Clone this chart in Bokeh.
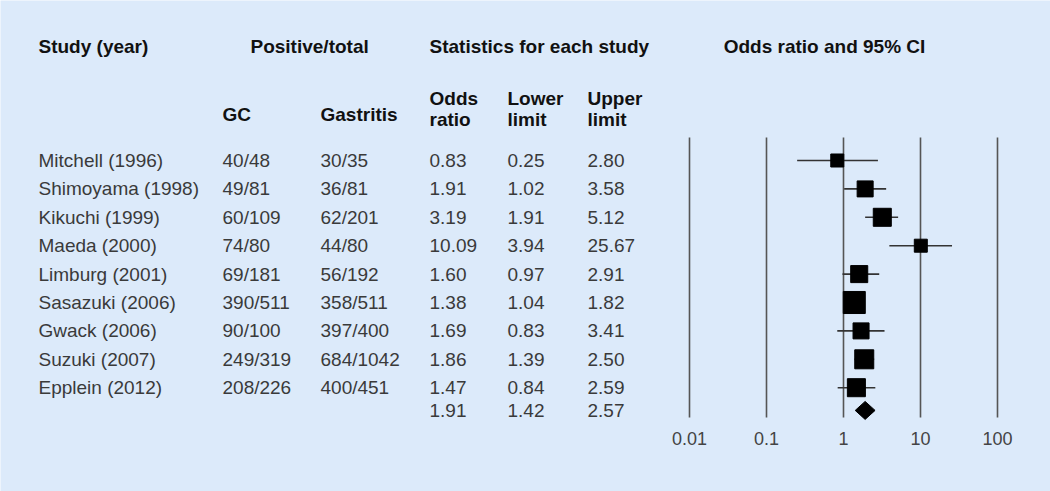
from bokeh.plotting import figure
from bokeh.models import ColumnDataSource, Range1d
from bokeh.core.properties import value
from bokeh.embed import file_html
from bokeh.resources import INLINE

# ---------------- data ----------------
studies = ["Mitchell (1996)", "Shimoyama (1998)", "Kikuchi (1999)", "Maeda (2000)",
           "Limburg (2001)", "Sasazuki (2006)", "Gwack (2006)", "Suzuki (2007)",
           "Epplein (2012)"]
gc_pos = ["40/48", "49/81", "60/109", "74/80", "69/181", "390/511", "90/100",
          "249/319", "208/226"]
gastritis_pos = ["30/35", "36/81", "62/201", "44/80", "56/192", "358/511", "397/400",
                 "684/1042", "400/451"]
odds = [0.83, 1.91, 3.19, 10.09, 1.60, 1.38, 1.69, 1.86, 1.47]
lower = [0.25, 1.02, 1.91, 3.94, 0.97, 1.04, 0.83, 1.39, 0.84]
upper = [2.80, 3.58, 5.12, 25.67, 2.91, 1.82, 3.41, 2.50, 2.59]
weights = [6.4, 9.7, 12.3, 6.4, 11.0, 18.4, 9.7, 13.7, 12.3]   # relative study weight (%)
summary_or, summary_lo, summary_hi = 1.91, 1.42, 2.57
ticks = [0.01, 0.1, 1, 10, 100]
tick_labels = ["0.01", "0.1", "1", "10", "100"]

# ---------------- layout constants ----------------
BG = "#dceafa"
FONT = value("Liberation Sans")
W, H = 1050, 491
ROW0, STEP = 160.0, 28.4          # page y of first row, px per row
PX_DECADE, PX_ONE = 77.0, 843.0   # forest scale: px per decade, page x of OR = 1


def py(page_y):
    return (page_y - ROW0) / STEP


def lx(page_x):
    # page x -> position on the log odds-ratio axis
    return 10 ** ((page_x - PX_ONE) / PX_DECADE)


rows = list(range(len(studies)))
summary_row = 8.8

src = ColumnDataSource(dict(
    y=rows, study=studies, gc=gc_pos, gas=gastritis_pos,
    ors=[f"{v:.2f}" for v in odds], lo=[f"{v:.2f}" for v in lower],
    hi=[f"{v:.2f}" for v in upper], odds=odds, lower=lower, upper=upper,
    size=[5.14 * w ** 0.5 for w in weights],
))

p = figure(width=W, height=H, output_backend="svg", toolbar_location=None,
           x_axis_type="log", x_range=Range1d(lx(0), lx(W)),
           y_range=Range1d(py(H), py(0)),
           x_axis_location=None, y_axis_location=None,
           min_border_left=0, min_border_right=0, min_border_top=0,
           min_border_bottom=0)
p.background_fill_color = BG
p.border_fill_color = BG
p.outline_line_color = None
p.xgrid.visible = False
p.ygrid.visible = False

body = dict(text_font=FONT, text_font_size="19px", text_color="#3a3a3a",
            text_baseline="middle", text_align="left")
head = dict(text_font=FONT, text_font_size="19px", text_color="#111111",
            text_font_style="bold", text_baseline="middle", text_align="left")

# ---------------- table ----------------
COL_STUDY, COL_GC, COL_GAS, COL_OR, COL_LO, COL_HI = (lx(38), lx(222), lx(320),
                                                      lx(429), lx(507), lx(587))
p.text(x=COL_STUDY, y="y", text="study", source=src, **body)
p.text(x=COL_GC, y="y", text="gc", source=src, **body)
p.text(x=COL_GAS, y="y", text="gas", source=src, **body)
p.text(x=COL_OR, y="y", text="ors", source=src, **body)
p.text(x=COL_LO, y="y", text="lo", source=src, **body)
p.text(x=COL_HI, y="y", text="hi", source=src, **body)
p.text(x=[COL_OR, COL_LO, COL_HI], y=[summary_row] * 3,
       text=[f"{summary_or:.2f}", f"{summary_lo:.2f}", f"{summary_hi:.2f}"], **body)

p.text(x=[COL_STUDY, lx(250), COL_OR], y=[py(46)] * 3,
       text=["Study (year)", "Positive/total", "Statistics for each study"], **head)
p.text(x=[COL_GC, COL_GAS], y=[py(114)] * 2, text=["GC", "Gastritis"], **head)
p.text(x=[COL_OR, COL_LO, COL_HI], y=[py(98)] * 3, text=["Odds", "Lower", "Upper"], **head)
p.text(x=[COL_OR, COL_LO, COL_HI], y=[py(119)] * 3, text=["ratio", "limit", "limit"], **head)

# ---------------- forest plot ----------------
p.segment(x0=ticks, x1=ticks, y0=[py(137)] * len(ticks), y1=[py(417)] * len(ticks),
          line_color="#555555", line_width=1.6)
p.text(x=ticks, y=[py(438)] * len(ticks), text=tick_labels,
       text_font=FONT, text_font_size="18px", text_color="#444444",
       text_baseline="middle", text_align="center")

p.segment(x0="lower", x1="upper", y0="y", y1="y", source=src,
          line_color="#333333", line_width=1.6)
p.scatter(x="odds", y="y", size="size", marker="square", source=src,
          fill_color="black", line_color="black")

dh = 9.0 / STEP
p.patch(x=[summary_lo, summary_or, summary_hi, summary_or],
        y=[summary_row, summary_row - dh, summary_row, summary_row + dh],
        fill_color="black", line_color="black")

p.text(x=[lx(824)], y=[py(46)], text=["Odds ratio and 95% CI"],
       text_font=FONT, text_font_size="19px", text_color="#111111",
       text_font_style="bold", text_baseline="middle", text_align="center")

open("out.html", "w").write(file_html(p, INLINE))
